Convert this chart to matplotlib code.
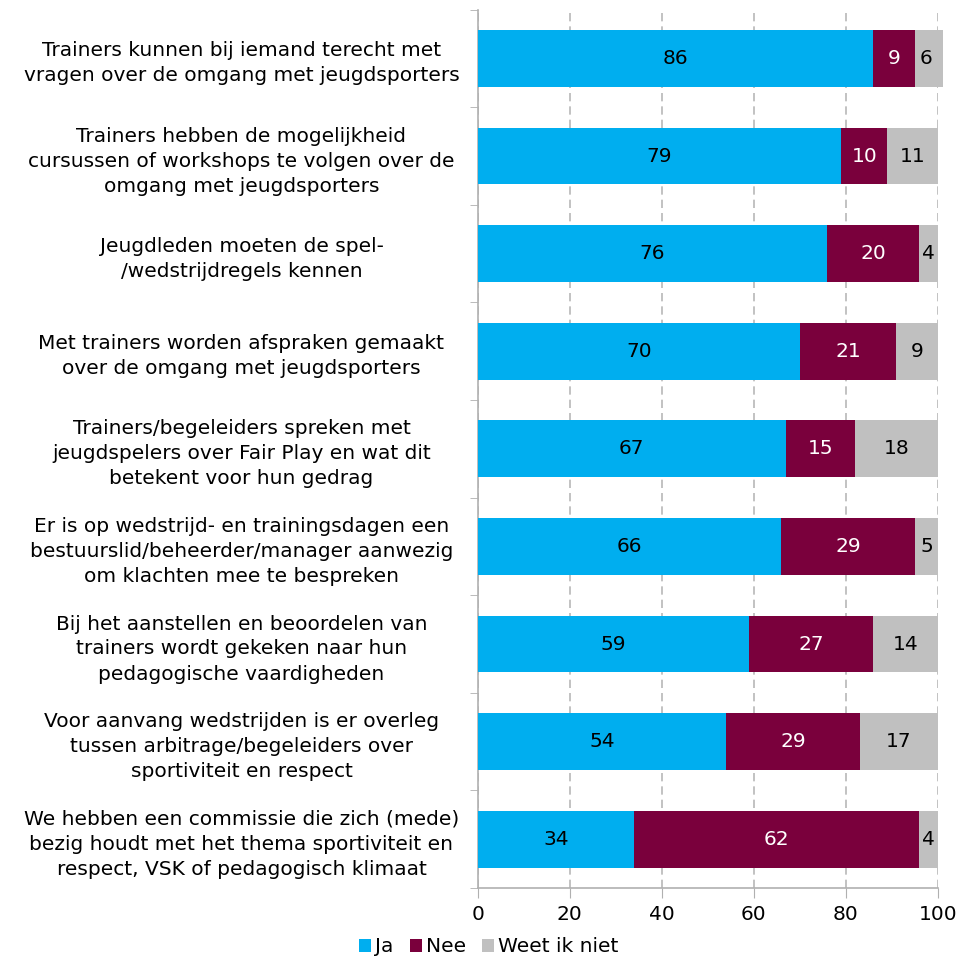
import numpy as np
import matplotlib.pyplot as plt

labels = [
    "Trainers kunnen bij iemand terecht met\nvragen over de omgang met jeugdsporters",
    "Trainers hebben de mogelijkheid\ncursussen of workshops te volgen over de\nomgang met jeugdsporters",
    "Jeugdleden moeten de spel-\n/wedstrijdregels kennen",
    "Met trainers worden afspraken gemaakt\nover de omgang met jeugdsporters",
    "Trainers/begeleiders spreken met\njeugdspelers over Fair Play en wat dit\nbetekent voor hun gedrag",
    "Er is op wedstrijd- en trainingsdagen een\nbestuurslid/beheerder/manager aanwezig\nom klachten mee te bespreken",
    "Bij het aanstellen en beoordelen van\ntrainers wordt gekeken naar hun\npedagogische vaardigheden",
    "Voor aanvang wedstrijden is er overleg\ntussen arbitrage/begeleiders over\nsportiviteit en respect",
    "We hebben een commissie die zich (mede)\nbezig houdt met het thema sportiviteit en\nrespect, VSK of pedagogisch klimaat",
]
ja = [86, 79, 76, 70, 67, 66, 59, 54, 34]
nee = [9, 10, 20, 21, 15, 29, 27, 29, 62]
weet = [6, 11, 4, 9, 18, 5, 14, 17, 4]
series = ["Ja", "Nee", "Weet ik niet"]
colors = ["#00aeef", "#7a003c", "#c0c0c0"]
text_colors = ["black", "white", "black"]

plt.rcParams['font.family'] = ['DejaVu Sans']
fs = 14.5
fig = plt.figure(figsize=(9.59, 9.6), dpi=100)
ax = fig.add_axes([0.498, 0.075, 0.48, 0.915])

y = np.arange(len(labels))
left = np.zeros(len(labels))
for vals, name, c, tc in zip([ja, nee, weet], series, colors, text_colors):
    vals = np.array(vals)
    bars = ax.barh(y, vals, left=left, height=0.58, color=c, label=name,
                   zorder=3, clip_on=False)
    ax.bar_label(bars, labels=[str(v) for v in vals], label_type='center',
                 color=tc, fontsize=fs)
    left += vals

ax.set_xlim(0, 100)
ax.set_ylim(len(labels) - 0.5, -0.5)
ax.set_xticks(np.arange(0, 101, 20))
ax.set_yticks(y)
ax.set_yticklabels(labels, fontsize=fs, ha='center', linespacing=1.4)
ax.tick_params(axis='y', length=0, pad=170)
ax.set_yticks(np.arange(-0.5, len(labels), 1), minor=True)
ax.tick_params(axis='y', which='minor', length=6, color='#b0b0b0')
ax.tick_params(axis='x', length=7, color='#b0b0b0', labelsize=fs, pad=5)
ax.grid(axis='x', linestyle=(0, (5, 3)), color='#b8b8b8', linewidth=1.2, zorder=0)
for s in ['top', 'right']:
    ax.spines[s].set_visible(False)
for s in ['left', 'bottom']:
    ax.spines[s].set_color('#b0b0b0')
    ax.spines[s].set_linewidth(1.2)

fig.legend(loc='lower center', bbox_to_anchor=(0.51, -0.015), ncol=3, frameon=False,
           fontsize=fs, handlelength=0.6, handleheight=0.6, handletextpad=0.2,
           columnspacing=0.8)

fig.savefig("out.png", dpi=100)
